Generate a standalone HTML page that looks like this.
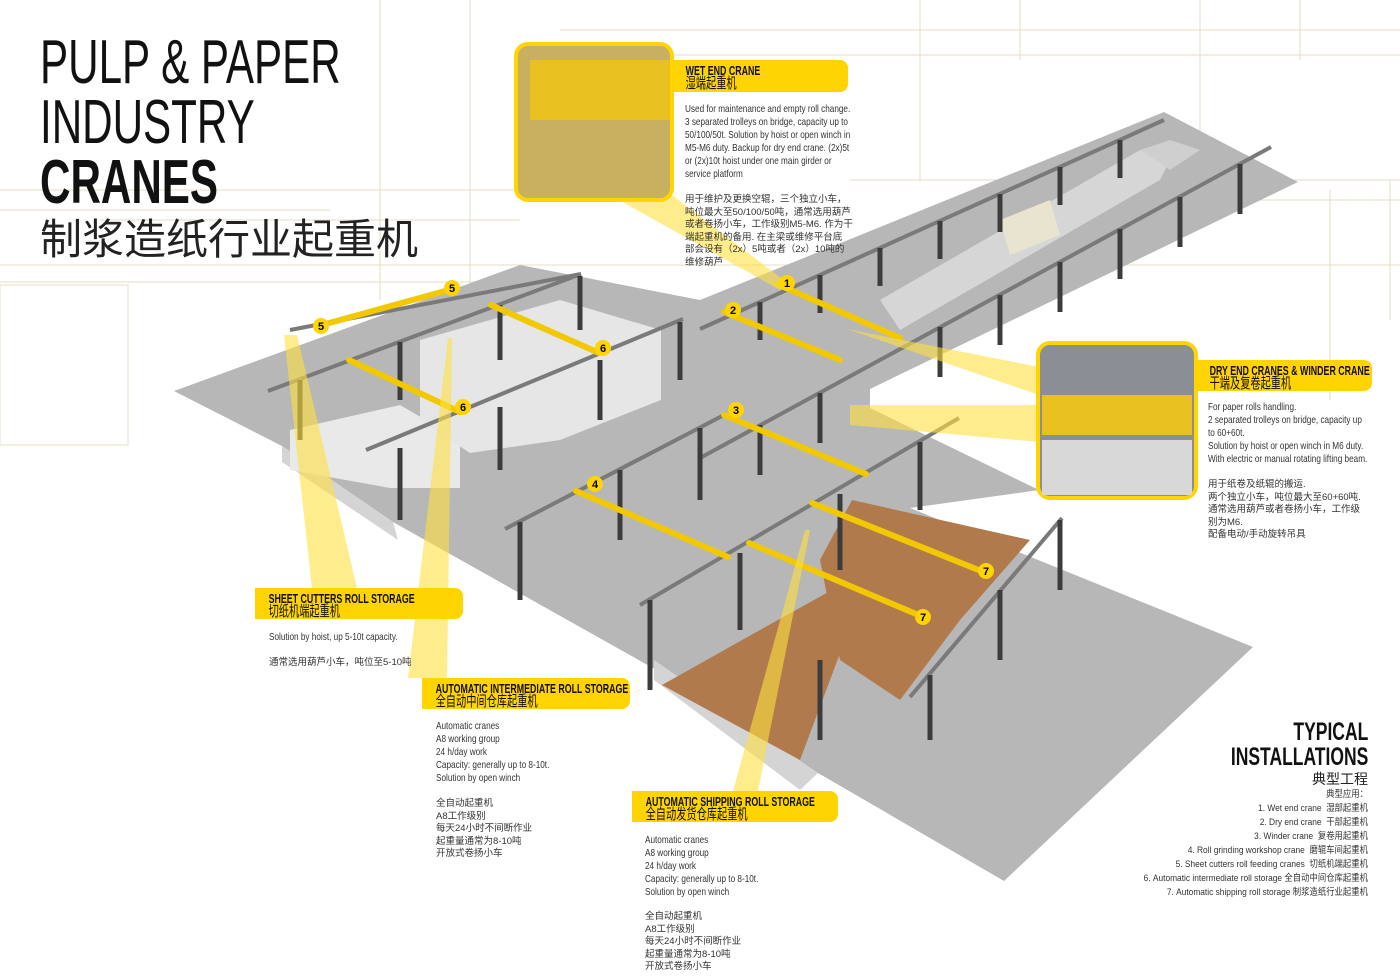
<!DOCTYPE html>
<html><head><meta charset="utf-8">
<style>
body{margin:0;background:#fff;}
#c{position:relative;width:1400px;height:976px;overflow:hidden;background:#fff;font-family:"Liberation Sans","Noto Sans CJK SC",sans-serif;color:#222;}
.a{position:absolute;white-space:nowrap;}
.t{font-size:62px;line-height:62px;color:#111;transform:scaleX(.68);transform-origin:left top;}
.lab{position:absolute;background:#ffd400;border-radius:0 8px 8px 0;box-sizing:border-box;color:#111;white-space:nowrap;}
.lab div{transform:scaleX(.68);transform-origin:left top;padding:4px 0 0 20px;font-size:13px;line-height:13px;font-weight:bold;}
.lab span{font-weight:normal;font-size:15px;}
.sm{font-size:10.5px;line-height:13px;color:#333;transform:scaleX(.78);transform-origin:left top;}
.smc{font-size:9.5px;line-height:12.5px;color:#333;}
</style></head><body><div id="c">
<svg width="1400" height="976" style="position:absolute;left:0;top:0">
<g stroke="#e6dcc4" stroke-width="1" fill="none">
<line x1="0" y1="265" x2="1400" y2="265"/><line x1="0" y1="282" x2="560" y2="282"/>
<line x1="0" y1="190" x2="520" y2="190"/><line x1="380" y1="0" x2="380" y2="300"/>
<line x1="470" y1="0" x2="470" y2="290"/><line x1="560" y1="30" x2="1400" y2="30"/>
<line x1="560" y1="55" x2="1400" y2="55"/><line x1="850" y1="180" x2="1400" y2="180"/>
<line x1="920" y1="0" x2="920" y2="180"/><line x1="1020" y1="0" x2="1020" y2="60"/>
<line x1="1200" y1="0" x2="1200" y2="180"/><line x1="1300" y1="0" x2="1300" y2="60"/>
<line x1="1170" y1="200" x2="1400" y2="200"/><line x1="1390" y1="180" x2="1390" y2="320"/>
<line x1="1330" y1="190" x2="1330" y2="400"/>
<rect x="0" y="285" width="128" height="160"/>
<line x1="0" y1="210" x2="330" y2="210"/><line x1="100" y1="220" x2="520" y2="220"/>
</g>
<!-- floor -->
<polygon points="174,391 520,265 700,300 1164,112 1298,182 870,389 870,408 1039,490 910,508 1253,647 1004,881 818,773 660,672 393,522 282,446" fill="#b7b7b7"/>
<!-- pit sides -->
<polygon points="282,446 393,522 398,540 282,462" fill="#d4d4d4"/>
<polygon points="654,660 818,773 800,790 654,680" fill="#d4d4d4"/>
<!-- white roll areas -->
<polygon points="290,430 400,405 460,440 460,488 390,488 290,470" fill="#e9e9e9"/>
<polygon points="420,340 560,300 661,330 661,400 560,440 470,453 420,420" fill="#e6e6e6"/>
<!-- brown roll areas -->
<polygon points="662,685 760,630 850,580 860,600 800,760" fill="#b07a4c"/>
<polygon points="820,560 852,500 1030,540 960,620 900,700 840,660" fill="#b07a4c"/>
<!-- strip machine -->
<polygon points="880,300 1140,150 1170,160 1160,180 900,330" fill="#d6d6d6"/>
<polygon points="1000,220 1050,200 1060,235 1010,255" fill="#e8e4d0"/>
<polygon points="1140,150 1170,140 1200,150 1170,170" fill="#cfcfcf"/>
<!-- rails -->
<g stroke="#7a7a7a" stroke-width="4" fill="none">
<line x1="268" y1="391" x2="581" y2="274"/><line x1="366" y1="450" x2="683" y2="319"/>
<line x1="505" y1="529" x2="724" y2="415"/><line x1="700" y1="329" x2="1164" y2="120"/>
<line x1="700" y1="458" x2="1271" y2="147"/><line x1="640" y1="605" x2="959" y2="418"/>
<line x1="910" y1="697" x2="1062" y2="518"/><line x1="290" y1="330" x2="581" y2="274"/>
</g>
<!-- columns -->
<g stroke="#3c3c3c" stroke-width="5">
<line x1="760" y1="302" x2="760" y2="340"/><line x1="820" y1="275" x2="820" y2="313"/>
<line x1="880" y1="248" x2="880" y2="286"/><line x1="940" y1="221" x2="940" y2="259"/>
<line x1="1000" y1="194" x2="1000" y2="232"/><line x1="1060" y1="167" x2="1060" y2="205"/>
<line x1="1120" y1="140" x2="1120" y2="178"/>
<line x1="760" y1="425" x2="760" y2="475"/><line x1="820" y1="393" x2="820" y2="443"/>
<line x1="940" y1="327" x2="940" y2="377"/><line x1="1000" y1="295" x2="1000" y2="345"/>
<line x1="1060" y1="262" x2="1060" y2="312"/><line x1="1120" y1="229" x2="1120" y2="279"/>
<line x1="1180" y1="197" x2="1180" y2="247"/><line x1="1240" y1="164" x2="1240" y2="214"/>
<line x1="300" y1="380" x2="300" y2="440"/><line x1="400" y1="342" x2="400" y2="400"/>
<line x1="500" y1="305" x2="500" y2="360"/><line x1="580" y1="276" x2="580" y2="330"/>
<line x1="400" y1="448" x2="400" y2="520"/><line x1="500" y1="407" x2="500" y2="470"/>
<line x1="600" y1="360" x2="600" y2="420"/><line x1="680" y1="322" x2="680" y2="380"/>
<line x1="520" y1="522" x2="520" y2="600"/><line x1="620" y1="470" x2="620" y2="540"/>
<line x1="700" y1="428" x2="700" y2="500"/><line x1="650" y1="600" x2="650" y2="690"/>
<line x1="740" y1="553" x2="740" y2="630"/><line x1="840" y1="494" x2="840" y2="570"/>
<line x1="920" y1="442" x2="920" y2="510"/><line x1="820" y1="660" x2="820" y2="740"/>
<line x1="930" y1="675" x2="930" y2="740"/><line x1="1000" y1="590" x2="1000" y2="660"/>
<line x1="1060" y1="520" x2="1060" y2="590"/>
</g>
<!-- cranes -->
<g stroke="#f2c800" stroke-width="6" stroke-linecap="round">
<line x1="322" y1="325" x2="456" y2="288"/><line x1="491" y1="305" x2="599" y2="353"/>
<line x1="349" y1="360" x2="460" y2="412"/><line x1="576" y1="491" x2="728" y2="557"/>
<line x1="724" y1="415" x2="866" y2="474"/><line x1="724" y1="312" x2="840" y2="360"/>
<line x1="777" y1="284" x2="900" y2="338"/><line x1="812" y1="503" x2="986" y2="573"/>
<line x1="749" y1="543" x2="923" y2="617"/>
</g>
<!-- beams -->
<g fill="#ffe040" opacity=".6">
<polygon points="610,195 672,195 790,285 780,290"/>
<polygon points="1039,367 1039,395 847,329"/>
<polygon points="1039,405 1039,442 850,425 850,405"/>
<polygon points="284,335 297,335 357,588 312,588"/>
<polygon points="448,338 452,338 447,678 408,678"/>
<polygon points="805,530 810,530 758,791 733,791"/>
</g>
<g font-family="Liberation Sans" font-size="11" font-weight="bold" text-anchor="middle">
<circle cx="787" cy="283" r="8" fill="#ffd400"/><text x="787" y="287">1</text>
<circle cx="733" cy="310" r="8" fill="#ffd400"/><text x="733" y="314">2</text>
<circle cx="736" cy="410" r="8" fill="#ffd400"/><text x="736" y="414">3</text>
<circle cx="595" cy="484" r="8" fill="#ffd400"/><text x="595" y="488">4</text>
<circle cx="452" cy="288" r="8" fill="#ffd400"/><text x="452" y="292">5</text>
<circle cx="321" cy="326" r="8" fill="#ffd400"/><text x="321" y="330">5</text>
<circle cx="603" cy="348" r="8" fill="#ffd400"/><text x="603" y="352">6</text>
<circle cx="463" cy="407" r="8" fill="#ffd400"/><text x="463" y="411">6</text>
<circle cx="986" cy="571" r="8" fill="#ffd400"/><text x="986" y="575">7</text>
<circle cx="923" cy="617" r="8" fill="#ffd400"/><text x="923" y="621">7</text>
</g>
<rect x="516" y="44" width="156" height="156" rx="12" fill="#c9b060" stroke="#ffd400" stroke-width="4"/>
<rect x="530" y="60" width="140" height="60" fill="#e8c020"/>
<rect x="1038" y="343" width="158" height="155" rx="12" fill="#8a8f95" stroke="#ffd400" stroke-width="4"/>
<rect x="1042" y="395" width="150" height="40" fill="#e8c020"/>
<rect x="1042" y="440" width="150" height="55" fill="#d8d8d8"/>
</svg>

<div class="a t" style="left:40px;top:32px;">PULP &amp; PAPER</div>
<div class="a t" style="left:40px;top:92px;">INDUSTRY</div>
<div class="a t" style="left:40px;top:152px;font-weight:bold;">CRANES</div>
<div class="a" style="left:40px;top:216px;font-size:42px;line-height:48px;">制浆造纸行业起重机</div>

<div class="lab" style="left:672px;top:60px;width:176px;height:32px;"><div>WET END CRANE<br><span>湿端起重机</span></div></div>
<div class="a sm" style="left:685px;top:103px;">Used for maintenance and empty roll change.<br>3 separated trolleys on bridge, capacity up to<br>50/100/50t. Solution by hoist or open winch in<br>M5-M6 duty. Backup for dry end crane. (2x)5t<br>or (2x)10t hoist under one main girder or<br>service platform</div>
<div class="a smc" style="left:685px;top:194px;">用于维护及更换空辊，三个独立小车，<br>吨位最大至50/100/50吨，通常选用葫芦<br>或者卷扬小车，工作级别M5-M6. 作为干<br>端起重机的备用. 在主梁或维修平台底<br>部会设有（2x）5吨或者（2x）10吨的<br>维修葫芦</div>

<div class="lab" style="left:1196px;top:360px;width:176px;height:31px;"><div>DRY END CRANES &amp; WINDER CRANE<br><span>干端及复卷起重机</span></div></div>
<div class="a sm" style="left:1208px;top:401px;">For paper rolls handling.<br>2 separated trolleys on bridge, capacity up<br>to 60+60t.<br>Solution by hoist or open winch in M6 duty.<br>With electric or manual rotating lifting beam.</div>
<div class="a smc" style="left:1208px;top:479px;">用于纸卷及纸辊的搬运.<br>两个独立小车，吨位最大至60+60吨.<br>通常选用葫芦或者卷扬小车，工作级<br>别为M6.<br>配备电动/手动旋转吊具</div>

<div class="lab" style="left:255px;top:588px;width:208px;height:31px;"><div>SHEET CUTTERS ROLL STORAGE<br><span>切纸机端起重机</span></div></div>
<div class="a sm" style="left:269px;top:631px;">Solution by hoist, up 5-10t capacity.</div>
<div class="a smc" style="left:269px;top:657px;">通常选用葫芦小车，吨位至5-10吨</div>

<div class="lab" style="left:422px;top:678px;width:208px;height:31px;"><div>AUTOMATIC INTERMEDIATE ROLL STORAGE<br><span>全自动中间仓库起重机</span></div></div>
<div class="a sm" style="left:436px;top:720px;">Automatic cranes<br>A8 working group<br>24 h/day work<br>Capacity: generally up to 8-10t.<br>Solution by open winch</div>
<div class="a smc" style="left:436px;top:798px;">全自动起重机<br>A8工作级别<br>每天24小时不间断作业<br>起重量通常为8-10吨<br>开放式卷扬小车</div>

<div class="lab" style="left:632px;top:791px;width:206px;height:31px;"><div>AUTOMATIC SHIPPING ROLL STORAGE<br><span>全自动发货仓库起重机</span></div></div>
<div class="a sm" style="left:645px;top:834px;">Automatic cranes<br>A8 working group<br>24 h/day work<br>Capacity: generally up to 8-10t.<br>Solution by open winch</div>
<div class="a smc" style="left:645px;top:911px;">全自动起重机<br>A8工作级别<br>每天24小时不间断作业<br>起重量通常为8-10吨<br>开放式卷扬小车</div>

<div class="a" style="right:32px;top:720px;text-align:right;font-size:25px;line-height:25px;font-weight:bold;color:#111;transform:scaleX(.7);transform-origin:right top;">TYPICAL<br>INSTALLATIONS</div>
<div class="a" style="right:32px;top:769px;font-size:14px;">典型工程</div>
<div class="a smc" style="right:32px;top:788px;text-align:right;line-height:14px;transform:scaleX(.88);transform-origin:right top;">典型应用：<br>1. Wet end crane &nbsp;湿部起重机<br>2. Dry end crane &nbsp;干部起重机<br>3. Winder crane &nbsp;复卷用起重机<br>4. Roll grinding workshop crane &nbsp;磨辊车间起重机<br>5. Sheet cutters roll feeding cranes &nbsp;切纸机端起重机<br>6. Automatic intermediate roll storage 全自动中间仓库起重机<br>7. Automatic shipping roll storage 制浆造纸行业起重机</div>
</div></body></html>
